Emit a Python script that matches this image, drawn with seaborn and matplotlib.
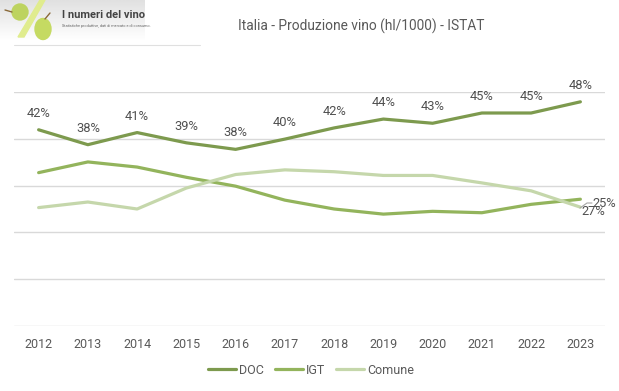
import matplotlib
matplotlib.use('Agg')
import matplotlib.pyplot as plt
from matplotlib.lines import Line2D
from matplotlib.patches import Ellipse, Polygon
import seaborn as sns
import pandas as pd
import numpy as np

years = [2012, 2013, 2014, 2015, 2016, 2017, 2018, 2019, 2020, 2021, 2022, 2023]
doc = [42.0, 38.8, 41.4, 39.2, 37.8, 40.0, 42.4, 44.3, 43.4, 45.6, 45.6, 48.0]
igt = [32.8, 35.1, 34.0, 31.8, 29.9, 26.9, 25.0, 23.9, 24.5, 24.2, 26.0, 27.1]
comune = [25.3, 26.5, 25.0, 29.5, 32.4, 33.4, 33.0, 32.2, 32.2, 30.6, 28.9, 25.4]
doc_labels = ['42%', '38%', '41%', '39%', '38%', '40%', '42%', '44%', '43%', '45%', '45%', '48%']
y_ticks = [0, 10, 20, 30, 40, 50]

W, H = 619, 391
TXT = '#595959'

sns.set_theme(style='white')
plt.rcParams['font.family'] = ['Roboto', 'DejaVu Sans']

df = pd.DataFrame({
    'anno': years * 3,
    'quota': doc + igt + comune,
    'tipo': ['DOC'] * 12 + ['IGT'] * 12 + ['Comune'] * 12,
})
palette = {'DOC': '#7d9a4e', 'IGT': '#93b45c', 'Comune': '#c5d7ab'}

fig = plt.figure(figsize=(W / 100, H / 100), dpi=100, facecolor='white')
ax = fig.add_axes([14 / W, 1 - 325.5 / H, 591 / W, 233 / H])

sns.lineplot(data=df, x='anno', y='quota', hue='tipo', palette=palette, linewidth=2.3,
             ax=ax, legend=False, zorder=3)

ax.set_xlim(2011.5, 2023.5)
ax.set_ylim(0, 50)
ax.set_xticks(years)
ax.set_yticks(y_ticks)
ax.set_yticklabels([])
ax.set_xlabel('')
ax.set_ylabel('')
ax.grid(axis='y', color='#d9d9d9', linewidth=1)
ax.set_axisbelow(True)
sns.despine(ax=ax, left=True, bottom=True, top=True, right=True)
ax.tick_params(axis='x', length=0, pad=9, labelsize=9, labelcolor=TXT)
ax.tick_params(axis='y', length=0)
ax.patch.set_alpha(0)

# etichette DOC sopra la linea
for x, y, lab in zip(years, doc, doc_labels):
    ax.annotate(lab, (x, y), xytext=(0, 11.8), textcoords='offset points', ha='center', va='center',
                fontsize=9.3, color='#505050', annotation_clip=False)

# etichette finali
ax.annotate('25%', (2023, igt[-1]), xytext=(17.5, -2.9), textcoords='offset points', ha='center',
            va='center', fontsize=9.3, color='#505050', annotation_clip=False)
ax.annotate('27%', (2023, comune[-1]), xytext=(9.5, -3.5), textcoords='offset points', ha='center',
            va='center', fontsize=9.3, color='#505050', annotation_clip=False)
fig.add_artist(Line2D([580 / W, 587 / W, 592 / W], [1 - 208 / H, 1 - 203 / H, 1 - 203 / H],
                      color='#a6a6a6', linewidth=0.8))

fig.text(361 / W, 1 - 26 / H, 'Italia - Produzione vino (hl/1000) - ISTAT', ha='center', va='center',
         fontsize=9.9, color=TXT)

# legenda
handles = [Line2D([], [], color=palette[k], linewidth=2.3) for k in palette]
fig.legend(handles, list(palette), loc='center', bbox_to_anchor=(311 / W, 1 - 370 / H), ncol=3,
           frameon=False, fontsize=9, labelcolor=TXT, handlelength=2.2, handletextpad=0.25,
           columnspacing=0.9)

# logo
logo = fig.add_axes([0, 1 - 41 / H, 145 / W, 41 / H])
logo.imshow(np.linspace(0.88, 1.0, 60).reshape(-1, 1), cmap='gray', vmin=0, vmax=1, aspect='auto',
            extent=[0, 145, 41, 0], origin='upper')
logo.set_xlim(0, 145)
logo.set_ylim(41, 0)
logo.axis('off')
logo.add_patch(Polygon([[40, 0], [45, 0], [24, 37], [18, 37]], color='#e0ec8e'))
logo.add_patch(Ellipse((20, 12), 16, 16, color='#bdd35f'))
logo.add_patch(Ellipse((43, 29), 16, 21, color='#c5da62'))
logo.plot([5, 12], [10, 12], color='#8a6a3a', linewidth=1)
logo.plot([45, 50], [19, 13], color='#8a6a3a', linewidth=1)
logo.text(62, 15, 'I numeri del vino', fontsize=8, fontweight='bold', color='#444444', va='center')
logo.text(62, 26, 'Statistiche produttive, dati di mercato e di consumo.', fontsize=2.8, color='#666666',
          va='center')
fig.add_artist(Line2D([14 / W, 200 / W], [1 - 45 / H, 1 - 45 / H], color='#e0e0e0', linewidth=0.8))

fig.savefig('out.png', dpi=100, facecolor='white')
